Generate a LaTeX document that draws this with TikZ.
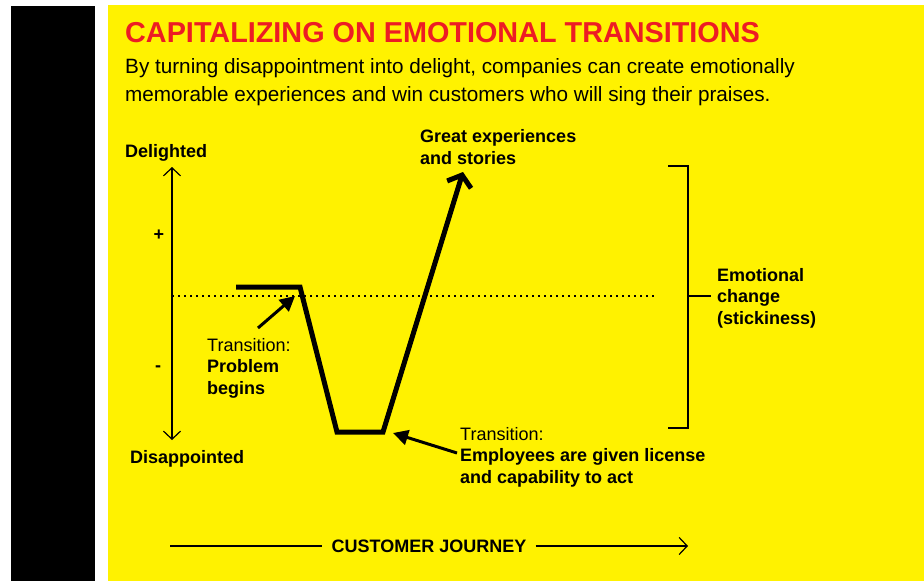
\documentclass[tikz,border=0pt]{standalone}
\usepackage{fontspec}
\setmainfont{Liberation Sans}
\usetikzlibrary{arrows.meta, positioning}
\definecolor{panelYellow}{RGB}{255,242,0}
\definecolor{titleRed}{RGB}{237,28,36}
\tikzset{
    lbl/.style={inner sep=0pt, anchor=base west, align=left, font=\fontsize{18}{21.5}\selectfont},
    lblBold/.style={lbl, font=\fontsize{18}{21.5}\selectfont\bfseries},
    axisArrow/.style={line width=1.2pt, {Straight Barb[length=8pt, width=17pt]}-{Straight Barb[length=8pt, width=17pt]}},
    journeyArrow/.style={line width=1.2pt, -{Straight Barb[length=8pt, width=17pt]}},
    curveLine/.style={line width=5pt, line join=miter, -{Straight Barb[length=10pt, width=25pt]}},
    pointer/.style={line width=3pt, -{Triangle[length=15pt, width=15pt]}},
    bracketLine/.style={line width=1.3pt},
    zeroLine/.style={line width=1.8pt, dash pattern=on 1.8pt off 4.2pt},
}

\begin{document}
\begin{tikzpicture}[x=1pt, y=-1pt]

    \useasboundingbox (0,0) rectangle (924,581);
    \fill[white] (0,0) rectangle (924,581);
    \fill[black] (11,6) rectangle (95,581);
    \fill[panelYellow] (108,5) rectangle (924,581);

    % heading
    \node[lbl, font=\fontsize{28.8}{30}\selectfont\bfseries, text=titleRed] (title) at (125,42) {CAPITALIZING ON EMOTIONAL TRANSITIONS};
    \node[lbl, font=\fontsize{20.7}{28}\selectfont] (sub1) at (125,73) {By turning disappointment into delight, companies can create emotionally};
    \node[lbl, font=\fontsize{20.7}{28}\selectfont] (sub2) at (125,101) {memorable experiences and win customers who will sing their praises.};

    % vertical scale (base anchor of a multi-line node is its last line)
    \node[lblBold] (delighted) at (125,157) {Delighted};
    \node[lblBold] (disappointed) at (130,463) {Disappointed};
    \node[font=\fontsize{18}{20}\selectfont\bfseries, inner sep=0pt] (plus) at (159,235) {+};
    \node[font=\fontsize{18}{20}\selectfont\bfseries, inner sep=0pt] (minus) at (158,369) {-};
    \coordinate (axTop) at (172,167);
    \coordinate (axBot) at (172,440);
    \draw[axisArrow] (axBot) -- (axTop);

    \coordinate (zeroL) at (172,296);
    \coordinate (zeroR) at (655,296);
    \draw[zeroLine] (zeroL) -- (zeroR);

    % emotional curve
    \coordinate (c0) at (236,287);
    \coordinate (c1) at (300,287);
    \coordinate (c2) at (337,432);
    \coordinate (c3) at (383,432);
    \coordinate (c4) at (463,172);
    \draw[curveLine] (c0) -- (c1) -- (c2) -- (c3) -- (c4);

    \node[lblBold] (great) at (420,164) {Great experiences\\and stories};

    % transitions
    \node[lbl] (trans1) at (207,394) {Transition:\\\textbf{Problem}\\\textbf{begins}};
    \coordinate (t1from) at (258,328);
    \coordinate (t1to) at (295,296);
    \draw[pointer] (t1from) -- (t1to);

    \node[lbl] (trans2) at (460,483) {Transition:\\\textbf{Employees are given license}\\\textbf{and capability to act}};
    \coordinate (t2from) at (457,453);
    \coordinate (t2to) at (393,433);
    \draw[pointer] (t2from) -- (t2to);

    % bracket
    \coordinate (bTop) at (668,166);
    \coordinate (bBot) at (668,428);
    \coordinate (bMid) at (688,296);
    \draw[bracketLine] (bTop) -| (bMid) |- (bBot);
    \node[lblBold] (emo) at (717,324) {Emotional\\change\\(stickiness)};
    \draw[bracketLine] (bMid) -- ([xshift=-6pt]emo.west |- bMid);

    % journey axis
    \node[lblBold, anchor=center] (cj) at (429,546) {CUSTOMER JOURNEY};
    \coordinate (cjL) at (170,546);
    \coordinate (cjR) at (688,546);
    \draw[bracketLine] (cjL) -- ([xshift=-9pt]cj.west);
    \draw[journeyArrow] ([xshift=9pt]cj.east) -- (cjR);

\end{tikzpicture}
\end{document}
